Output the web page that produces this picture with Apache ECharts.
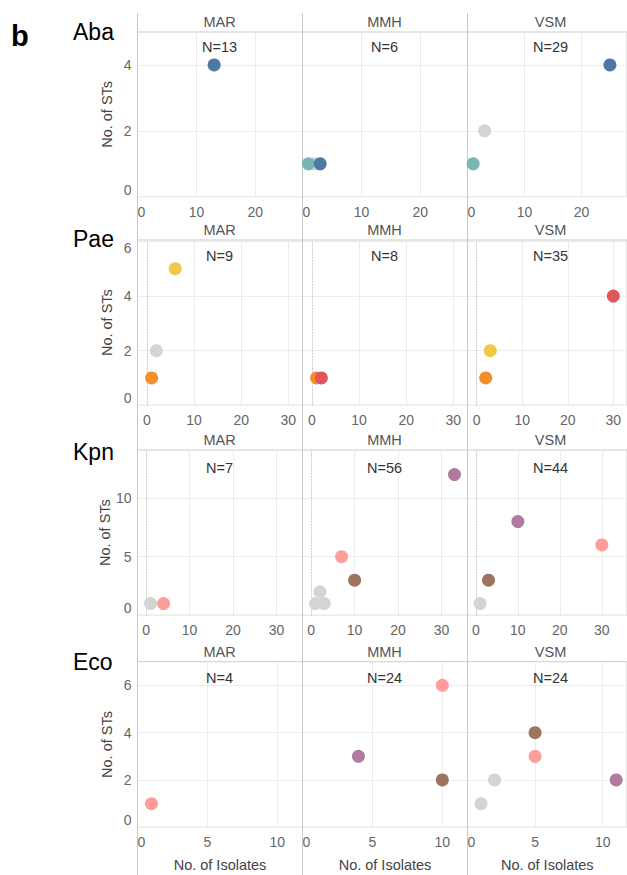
<!DOCTYPE html>
<html><head><meta charset="utf-8">
<script src="https://cdn.jsdelivr.net/npm/echarts@6/dist/echarts.min.js"></script>
<style>html,body{margin:0;padding:0;background:#fff}#c{width:627px;height:875px}</style>
</head><body><div id="c"></div>
<script>
// ---------------- data ----------------
const panelLetter = 'b';
const species = ['Aba', 'Pae', 'Kpn', 'Eco'];
const sites = ['MAR', 'MMH', 'VSM'];
const isolateTotals = [[13, 6, 29], [9, 8, 35], [7, 56, 44], [4, 24, 24]];
// [site index, no. of isolates, no. of STs, group]
const abaPoints = [[0,13,4,'g1'], [1,2,1,'other'], [1,1,1,'g2'], [1,3,1,'g1'], [2,3,2,'other'], [2,1,1,'g2'], [2,25,4,'g1']];
const paePoints = [[0,2,2,'other'], [0,1,1,'g3'], [0,6,5,'g4'], [1,1,1,'g3'], [1,2,1,'g5'], [2,2,1,'g3'], [2,3,2,'g4'], [2,30,4,'g5']];
const kpnPoints = [[0,1,1,'other'], [0,4,1,'g6'], [1,2,2,'other'], [1,1,1,'other'], [1,3,1,'other'], [1,7,5,'g6'], [1,10,3,'g7'], [1,33,12,'g8'], [2,1,1,'other'], [2,3,3,'g7'], [2,10,8,'g8'], [2,30,6,'g6']];
const ecoPoints = [[0,1,1,'g6'], [1,4,3,'g8'], [1,10,2,'g7'], [1,10,6,'g6'], [2,1,1,'other'], [2,2,2,'other'], [2,5,3,'g6'], [2,5,4,'g7'], [2,11,2,'g8']];
const xTickValues = [[0,10,20], [0,10,20,30], [0,10,20,30], [0,5,10]];
const yTickValues = [[0,2,4], [0,2,4,6], [0,5,10], [0,2,4,6]];
const xRanges = [[0,28], [-2,33], [-2,36], [0,11.8]];
const yRanges = [[0,5], [0,6.05], [0,14.1], [0,7]];
const xAxisTitle = 'No. of Isolates';
const yAxisTitle = 'No. of STs';

// ---------------- style ----------------
const palette = {g1:'#4e79a7', g2:'#76b7b2', g3:'#f28e2b', g4:'#edc948', g5:'#e15759', g6:'#ff9d9a', g7:'#9c755f', g8:'#b07aa1', other:'#d4d4d4'};
const FONT = "'Liberation Sans', Arial, Helvetica, sans-serif";
const colLeft = [137.5, 302.5, 467.5], colW = 165;
const rowTop = [32, 240, 450, 661.7], rowBottom = [196.7, 405.3, 615.3, 827.3];
const speciesY = [32, 239, 452, 661.5];
const nLabelY = [47.2, 255.5, 468, 678.3];
const headerCx = [219.5, 384.5, 550.5];
const allPoints = [abaPoints, paePoints, kpnPoints, ecoPoints];

const grids = [], xAxes = [], yAxes = [], series = [], graphics = [];
for (let r = 0; r < 4; r++) {
  for (let c = 0; c < 3; c++) {
    const i = r * 3 + c;
    grids.push({left: colLeft[c], top: rowTop[r], width: colW, height: rowBottom[r] - rowTop[r],
      show: true, borderColor: '#cdcdcd', borderWidth: 1, backgroundColor: 'transparent'});
    xAxes.push({type: 'value', gridIndex: i, min: xRanges[r][0], max: xRanges[r][1],
      axisLine: {show: false}, axisTick: {show: false, customValues: xTickValues[r]},
      axisLabel: {customValues: xTickValues[r], color: '#666', fontSize: 14, fontFamily: FONT, margin: 8,
        alignMinLabel: (xRanges[r][0] === 0) ? 'left' : 'center'},
      splitLine: {show: true, lineStyle: {color: '#ececec', width: 1}},
      name: r === 3 ? xAxisTitle : '', nameLocation: 'middle', nameGap: 30,
      nameTextStyle: {color: '#444', fontSize: 14.5, fontFamily: FONT}});
    yAxes.push({type: 'value', gridIndex: i, min: yRanges[r][0], max: yRanges[r][1],
      axisLine: {show: false}, axisTick: {show: false, customValues: yTickValues[r]},
      axisLabel: {show: c === 0, customValues: yTickValues[r], color: '#666', fontSize: 14, fontFamily: FONT, margin: 6,
        verticalAlignMinLabel: 'bottom', verticalAlignMaxLabel: r === 1 ? 'top' : 'middle'},
      splitLine: {show: true, lineStyle: {color: '#ececec', width: 1}},
      name: c === 0 ? yAxisTitle : '', nameLocation: 'middle', nameGap: 23, nameRotate: 90,
      nameTextStyle: {color: '#444', fontSize: 14.5, fontFamily: FONT}});
    const pts = allPoints[r].filter(p => p[0] === c);
    const s = {type: 'scatter', xAxisIndex: i, yAxisIndex: i, symbol: 'circle', symbolSize: 13, clip: false,
      data: pts.map(p => ({value: [p[1], p[2]], itemStyle: {color: palette[p[3]], opacity: 1}})),
      z: 3};
    if (xRanges[r][0] < 0) {
      s.markLine = {silent: true, symbol: 'none', animation: false, label: {show: false},
        lineStyle: {type: [1, 2], color: '#bdbdbd', width: 1}, data: [{xAxis: 0}], z: 2};
    }
    series.push(s);
    graphics.push({type: 'text', x: headerCx[c], y: rowTop[r] - 10, z: 20,
      style: {text: sites[c], fill: '#555', font: '14.5px ' + FONT, align: 'center', verticalAlign: 'middle', textAlign: 'center', textVerticalAlign: 'middle'}});
    graphics.push({type: 'text', x: headerCx[c], y: nLabelY[r], z: 20,
      style: {text: 'N=' + isolateTotals[r][c], fill: '#333', font: '14.5px ' + FONT, align: 'center', verticalAlign: 'middle', textAlign: 'center', textVerticalAlign: 'middle'}});
  }
  graphics.push({type: 'text', x: 73, y: speciesY[r], z: 20,
    style: {text: species[r], fill: '#000', font: '23px ' + FONT, align: 'left', verticalAlign: 'middle', textAlign: 'left', textVerticalAlign: 'middle'}});
}
graphics.push({type: 'text', x: 11, y: 36, z: 20,
  style: {text: panelLetter, fill: '#000', font: 'bold 29px ' + FONT, align: 'left', verticalAlign: 'middle', textAlign: 'left', textVerticalAlign: 'middle'}});
for (const x of colLeft) {
  graphics.push({type: 'line', shape: {x1: x, y1: 13, x2: x, y2: 875}, style: {stroke: '#c8c8c8', lineWidth: 1}, z: 1});
}

const chart = echarts.init(document.getElementById('c'), null, {renderer: 'svg'});
chart.setOption({animation: false, backgroundColor: '#fff', textStyle: {fontFamily: FONT},
  grid: grids, xAxis: xAxes, yAxis: yAxes, series: series, graphic: graphics});
</script></body></html>
